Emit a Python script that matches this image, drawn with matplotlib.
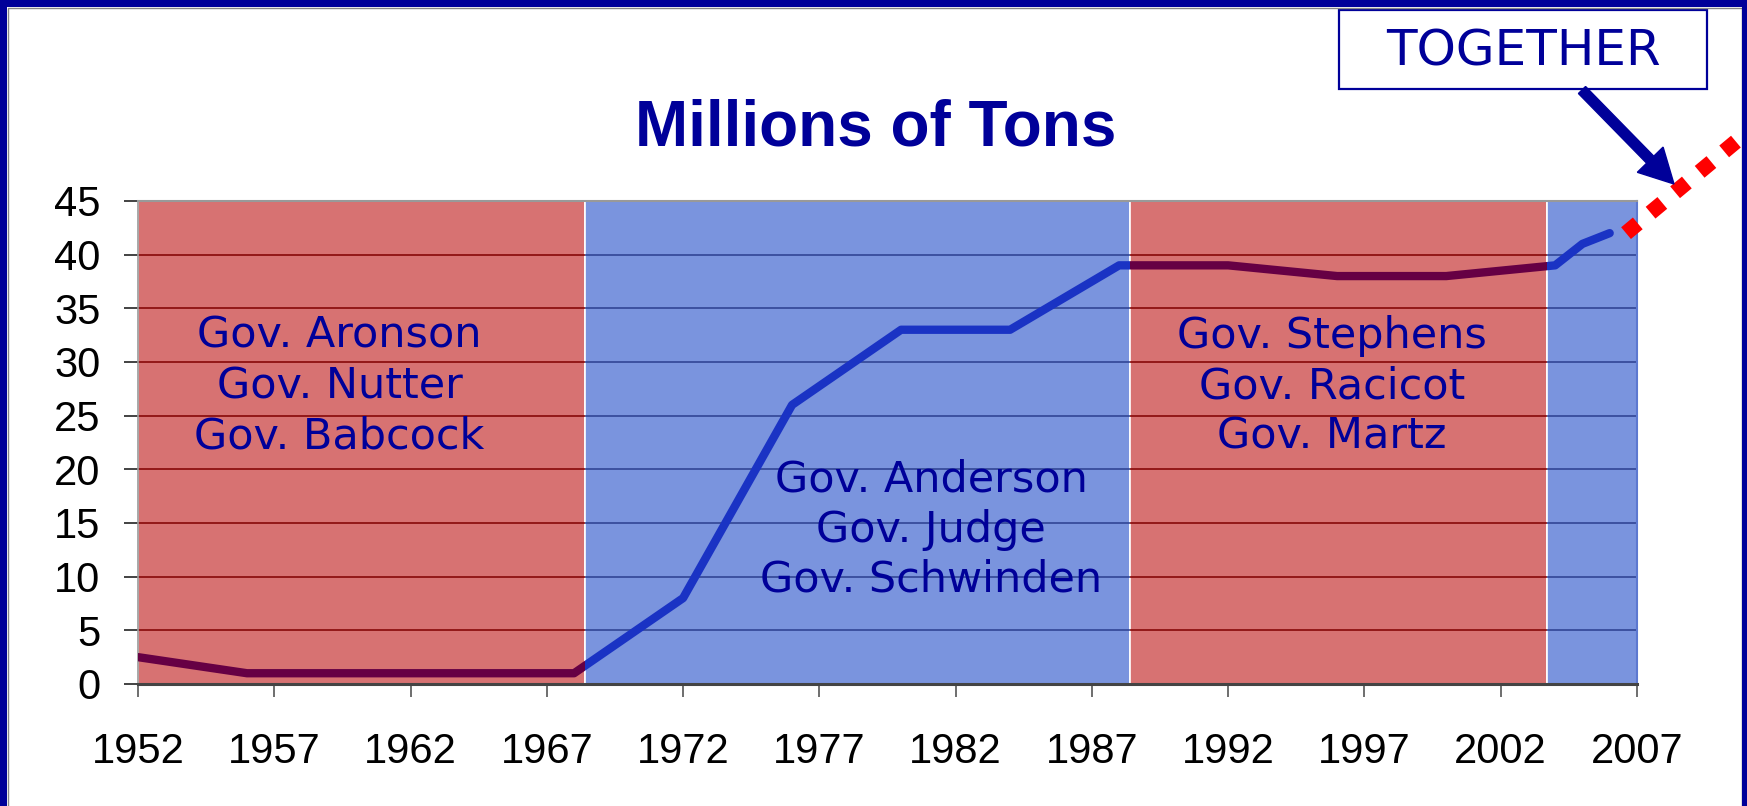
import numpy as np
import matplotlib.pyplot as plt
from matplotlib.patches import Rectangle, FancyArrow

# coal production, millions of tons
years = [1952, 1956, 1960, 1964, 1968, 1972, 1976, 1980, 1984, 1988, 1992, 1996, 2000, 2004, 2005, 2006]
tons = [2.5, 1, 1, 1, 1, 8, 26, 33, 33, 39, 39, 38, 38, 39, 41, 42]

# dotted "together" projection
proj_years = [2006.6, 2010.95]
proj_tons = [42.0, 51.2]

# governor terms (R = red, D = blue)
term_start = [1952, 1968.4, 1988.4, 2003.7]
term_end = [1968.4, 1988.4, 2003.7, 2007]
term_party = ['R', 'D', 'R', 'D']
governors = [
    ["Gov. Aronson", "Gov. Nutter", "Gov. Babcock"],
    ["Gov. Anderson", "Gov. Judge", "Gov. Schwinden"],
    ["Gov. Stephens", "Gov. Racicot", "Gov. Martz"],
    [],
]
xtick_years = list(range(1952, 2008, 5))
ytick_vals = list(range(0, 50, 5))

# styling
fill = {'R': '#d77272', 'D': '#7a94de'}
line_col = {'R': '#660044', 'D': '#1a33c4'}
grid_col = {'R': '#800000', 'D': '#2b3f8f'}
navy = '#000099'

label_x = [1959.4, 1981.1, 1995.8]
label_y = [31.3, 17.9, 31.3]
line_step = 4.66

fig = plt.figure(figsize=(17.47, 8.06), dpi=100)
ax = fig.add_axes([0.0790, 0.1514, 0.8580, 0.5993])

for i in range(len(term_start)):
    p = term_party[i]
    rect = ax.bar(term_start[i], 45, width=term_end[i] - term_start[i], align='edge',
                  color=fill[p], edgecolor='white', linewidth=1.2, zorder=1)[0]
    ax.hlines(ytick_vals[1:-1], term_start[i], term_end[i], colors=grid_col[p],
              linewidth=1.1, zorder=1.5)
    ln, = ax.plot(years, tons, color=line_col[p], linewidth=6,
                  solid_capstyle='round', solid_joinstyle='round', zorder=3)
    ln.set_clip_path(rect)
    if i < len(label_x):
        for k, name in enumerate(governors[i]):
            ax.text(label_x[i], label_y[i] - k * line_step, name, ha='center', va='baseline',
                    fontsize=31, color=navy, family='DejaVu Sans', zorder=4)

ax.plot(proj_years, proj_tons, color='#ff0000', linewidth=11,
        linestyle=(0, (1, 1.09)), dash_capstyle='butt', clip_on=False, zorder=5)

ax.set_xlim(1952, 2007)
ax.set_ylim(0, 45)
ax.set_xticks(xtick_years)
ax.set_yticks(ytick_vals)
ax.set_facecolor('white')
ax.tick_params(axis='x', direction='out', length=9.5, width=1.2, color='#555555',
               pad=25, labelsize=30)
ax.tick_params(axis='y', direction='out', length=10, width=1.2, color='#222222',
               pad=17, labelsize=30)
for lab in ax.get_xticklabels() + ax.get_yticklabels():
    lab.set_family('Liberation Sans')

ax.spines['left'].set_color('#999999')
ax.spines['left'].set_linewidth(1.2)
ax.spines['top'].set_color('#999999')
ax.spines['top'].set_linewidth(1.5)
ax.spines['bottom'].set_color('#444444')
ax.spines['bottom'].set_linewidth(2.2)
ax.spines['right'].set_color('#5c78d0')
ax.spines['right'].set_linewidth(1.5)

fig.text(876 / 1747, 1 - 145 / 806, "Millions of Tons", ha='center', va='baseline',
         fontsize=46, fontweight='bold', color=navy, family='Liberation Sans')

# TOGETHER box + arrow
fig.patches.append(Rectangle((13.39, 8.06 - 0.89), 3.68, 0.79, transform=fig.dpi_scale_trans,
                             facecolor='white', edgecolor=navy, linewidth=1.6, zorder=6))
fig.text(1523 / 1747, 1 - 66 / 806, "TOGETHER", ha='center', va='baseline',
         fontsize=36, color=navy, family='DejaVu Sans', zorder=7)
fig.patches.append(FancyArrow(15.82, 8.06 - 0.90, 0.92, -0.94, width=0.10, head_width=0.36,
                              head_length=0.34, length_includes_head=True,
                              transform=fig.dpi_scale_trans, color=navy, zorder=6))

# slide frame
for x, y, w, h in [(0, 0, 0.07, 8.06), (0, 7.99, 17.47, 0.07), (17.42, 0, 0.05, 8.06)]:
    fig.patches.append(Rectangle((x, y), w, h, transform=fig.dpi_scale_trans,
                                 facecolor=navy, edgecolor='none', zorder=8))
fig.add_artist(plt.Line2D([0.075, 0.075, 17.415], [0, 7.985, 7.985], color='#888888',
                          linewidth=1, transform=fig.dpi_scale_trans, zorder=8))
fig.add_artist(plt.Line2D([17.415, 17.415], [0, 7.985], color='#555555',
                          linewidth=1, transform=fig.dpi_scale_trans, zorder=8))

fig.savefig('out.png', dpi=100)
